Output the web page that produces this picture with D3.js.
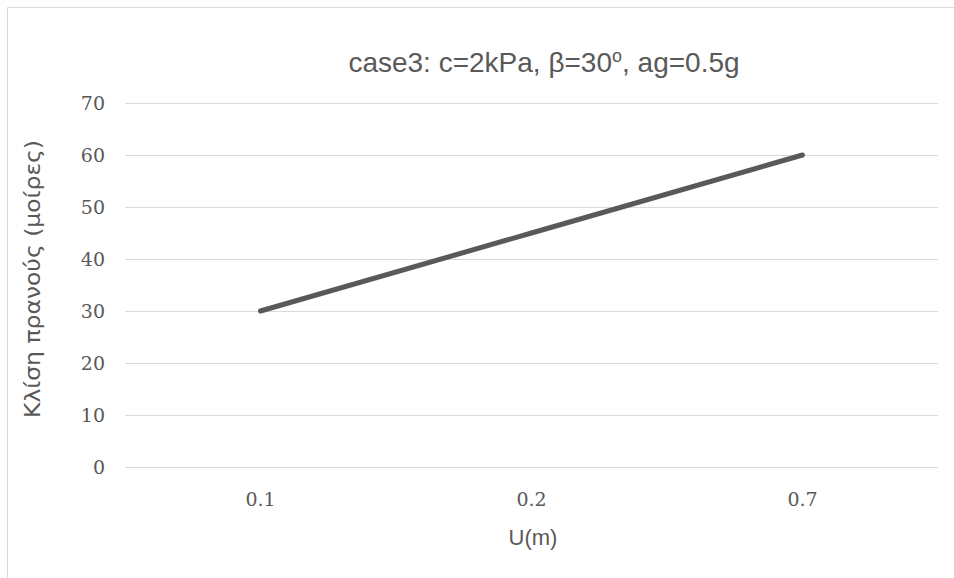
<!DOCTYPE html>
<html>
<head>
<meta charset="utf-8">
<script src="https://cdn.jsdelivr.net/npm/d3@7"></script>
<style>
  body { margin: 0; background: #fff; }
  svg { display: block; }
</style>
</head>
<body>
<svg id="chart" width="954" height="578"></svg>
<script>
// data
var categories = ['0.1', '0.2', '0.7'];
var slopeValues = [30, 45, 60];
var yTicks = [0, 10, 20, 30, 40, 50, 60, 70];

var svg = d3.select('#chart');
var W = 954, H = 578;
var margin = {left: 125, right: 16, top: 103, bottom: 111};
var tickFont = '"DejaVu Serif", "Liberation Serif", serif';
var sansFont = '"Liberation Sans", Arial, sans-serif';

// outer frame (only left/top visible in the picture)
svg.append('line').attr('x1', 7.5).attr('x2', W).attr('y1', 7.5).attr('y2', 7.5)
  .attr('stroke', '#d9d9d9').attr('stroke-width', 1);
svg.append('line').attr('x1', 7.5).attr('x2', 7.5).attr('y1', 7.5).attr('y2', H)
  .attr('stroke', '#d9d9d9').attr('stroke-width', 1);

var x = d3.scaleBand().domain(categories).range([margin.left, W - margin.right]);
var y = d3.scaleLinear().domain([0, 70]).range([H - margin.bottom, margin.top]);

// gridlines
svg.append('g').selectAll('line').data(yTicks).enter().append('line')
  .attr('x1', margin.left).attr('x2', W - margin.right)
  .attr('y1', function(d){ return Math.round(y(d)) + 0.5; })
  .attr('y2', function(d){ return Math.round(y(d)) + 0.5; })
  .attr('stroke', '#d9d9d9').attr('stroke-width', 1);

// y tick labels
svg.append('g').selectAll('text').data(yTicks).enter().append('text')
  .attr('x', 105)
  .attr('y', function(d){ return y(d); })
  .attr('dy', '0.36em')
  .attr('text-anchor', 'end')
  .attr('font-family', tickFont)
  .attr('font-size', 19)
  .attr('fill', '#595959')
  .text(function(d){ return d; });

// x tick labels
svg.append('g').selectAll('text').data(categories).enter().append('text')
  .attr('x', function(d){ return x(d) + x.bandwidth() / 2; })
  .attr('y', 506)
  .attr('text-anchor', 'middle')
  .attr('font-family', tickFont)
  .attr('font-size', 19)
  .attr('fill', '#595959')
  .text(function(d){ return d; });

// the series line
var line = d3.line()
  .x(function(d, i){ return x(categories[i]) + x.bandwidth() / 2; })
  .y(function(d){ return y(d); });

svg.append('path').datum(slopeValues)
  .attr('d', line)
  .attr('fill', 'none')
  .attr('stroke', '#595959')
  .attr('stroke-width', 5)
  .attr('stroke-linecap', 'round')
  .attr('stroke-linejoin', 'round');

// title
var title = svg.append('text')
  .attr('x', 544).attr('y', 72)
  .attr('text-anchor', 'middle')
  .attr('font-family', sansFont)
  .attr('font-size', 28)
  .attr('fill', '#595959');
title.append('tspan').text('case3: c=2kPa, β=30');
title.append('tspan').attr('font-size', 18).attr('dy', -10).text('o');
title.append('tspan').attr('dy', 10).text(', ag=0.5g');

// axis titles
svg.append('text')
  .attr('x', 533).attr('y', 545)
  .attr('text-anchor', 'middle')
  .attr('font-family', sansFont)
  .attr('font-size', 22)
  .attr('fill', '#595959')
  .text('U(m)');

svg.append('text')
  .attr('transform', 'translate(40,279) rotate(-90)')
  .attr('text-anchor', 'middle')
  .attr('font-family', '"DejaVu Sans", sans-serif')
  .attr('font-size', 22)
  .attr('textLength', 278)
  .attr('lengthAdjust', 'spacingAndGlyphs')
  .attr('fill', '#595959')
  .text('Κλίση πρανούς (μοίρες)');
</script>
</body>
</html>
